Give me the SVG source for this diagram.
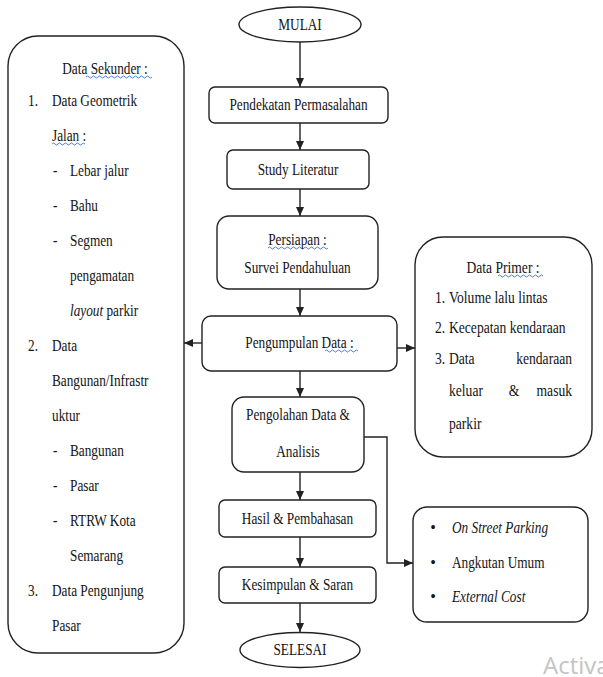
<svg xmlns="http://www.w3.org/2000/svg" width="603" height="677" viewBox="0 0 603 677">
<style>
.t{font-family:"Liberation Serif","Times New Roman",serif;font-size:16px;fill:#151515}
.i{font-style:italic}
.m{text-anchor:middle}
.e{text-anchor:end}
.box{fill:#fff;stroke:#222;stroke-width:1.4}
.conn{fill:none;stroke:#222;stroke-width:1.4}
.sq{fill:none;stroke:#3b6fd0;stroke-width:0.9}
.wm{font-family:"Open Sans","Noto Sans",sans-serif;font-size:24px;fill:#c4c4c4}
</style>
<defs>
<marker id="ah" markerUnits="userSpaceOnUse" markerWidth="10" markerHeight="8" refX="9" refY="4" orient="auto">
<path d="M0,0 L9,4 L0,8 Z" fill="#222"/>
</marker>
</defs>
<rect width="603" height="677" fill="#fff"/>

<g id="connectors">
<line class="conn" x1="300" y1="42" x2="300" y2="87" marker-end="url(#ah)"/>
<line class="conn" x1="300" y1="123" x2="300" y2="150" marker-end="url(#ah)"/>
<line class="conn" x1="300" y1="189" x2="300" y2="216" marker-end="url(#ah)"/>
<line class="conn" x1="300" y1="289" x2="300" y2="316" marker-end="url(#ah)"/>
<line class="conn" x1="202" y1="343" x2="184" y2="343" marker-end="url(#ah)"/>
<line class="conn" x1="397" y1="348" x2="415" y2="348" marker-end="url(#ah)"/>
<line class="conn" x1="300" y1="371" x2="300" y2="397" marker-end="url(#ah)"/>
<line class="conn" x1="300" y1="472" x2="300" y2="500" marker-end="url(#ah)"/>
<line class="conn" x1="300" y1="537" x2="300" y2="567" marker-end="url(#ah)"/>
<line class="conn" x1="300" y1="603" x2="300" y2="632" marker-end="url(#ah)"/>
<path class="conn" d="M364,437 H387 V563 H413" marker-end="url(#ah)"/>
</g>

<g id="mulai">
<ellipse class="box" cx="300" cy="24.5" rx="61" ry="17.5"/>
<text class="t m" transform="translate(300 30) scale(0.83 1)">MULAI</text>
</g>

<g id="pendekatan">
<rect class="box" x="209" y="87" width="179" height="36" rx="6"/>
<text class="t m" transform="translate(298.5 110) scale(0.83 1)">Pendekatan Permasalahan</text>
</g>

<g id="study">
<rect class="box" x="227" y="150" width="142" height="39" rx="6"/>
<text class="t m" transform="translate(298 175) scale(0.83 1)">Study Literatur</text>
</g>

<g id="persiapan">
<rect class="box" x="217" y="216" width="161" height="73" rx="12"/>
<text class="t m" transform="translate(297.5 245) scale(0.83 1)">Persiapan :</text>
<text class="t m" transform="translate(297.5 273) scale(0.83 1)">Survei Pendahuluan</text>
</g>

<g id="pengumpulan">
<rect class="box" x="202" y="316" width="195" height="55" rx="9"/>
<text class="t m" transform="translate(299.5 348) scale(0.83 1)">Pengumpulan Data :</text>
</g>

<g id="pengolahan">
<rect class="box" x="232" y="397" width="132" height="75" rx="12"/>
<text class="t m" transform="translate(298 420) scale(0.83 1)">Pengolahan Data &amp;</text>
<text class="t m" transform="translate(298 457) scale(0.83 1)">Analisis</text>
</g>

<g id="hasil">
<rect class="box" x="219" y="500" width="157" height="37" rx="6"/>
<text class="t m" transform="translate(297.5 524) scale(0.83 1)">Hasil &amp; Pembahasan</text>
</g>

<g id="kesimpulan">
<rect class="box" x="219" y="567" width="157" height="36" rx="6"/>
<text class="t m" transform="translate(297.5 590) scale(0.83 1)">Kesimpulan &amp; Saran</text>
</g>

<g id="selesai">
<ellipse class="box" cx="300" cy="650" rx="60" ry="17.5"/>
<text class="t m" transform="translate(300 655) scale(0.83 1)">SELESAI</text>
</g>

<g id="data-sekunder">
<rect class="box" x="8" y="36" width="176" height="617" rx="30"/>
<text class="t m" transform="translate(105 74) scale(0.83 1)">Data Sekunder :</text>
<text class="t" transform="translate(28 106) scale(0.83 1)">1.</text>
<text class="t" transform="translate(52 106) scale(0.83 1)">Data Geometrik</text>
<text class="t" transform="translate(52 141) scale(0.83 1)">Jalan :</text>
<text class="t" transform="translate(53 176) scale(0.83 1)">-</text>
<text class="t" transform="translate(70 176) scale(0.83 1)">Lebar jalur</text>
<text class="t" transform="translate(53 211) scale(0.83 1)">-</text>
<text class="t" transform="translate(70 211) scale(0.83 1)">Bahu</text>
<text class="t" transform="translate(53 246) scale(0.83 1)">-</text>
<text class="t" transform="translate(70 246) scale(0.83 1)">Segmen</text>
<text class="t" transform="translate(70 281) scale(0.83 1)">pengamatan</text>
<text class="t" transform="translate(70 316) scale(0.83 1)"><tspan class="i">layout</tspan> parkir</text>
<text class="t" transform="translate(28 351) scale(0.83 1)">2.</text>
<text class="t" transform="translate(52 351) scale(0.83 1)">Data</text>
<text class="t" transform="translate(52 386) scale(0.83 1)">Bangunan/Infrastr</text>
<text class="t" transform="translate(52 421) scale(0.83 1)">uktur</text>
<text class="t" transform="translate(53 456) scale(0.83 1)">-</text>
<text class="t" transform="translate(70 456) scale(0.83 1)">Bangunan</text>
<text class="t" transform="translate(53 491) scale(0.83 1)">-</text>
<text class="t" transform="translate(70 491) scale(0.83 1)">Pasar</text>
<text class="t" transform="translate(53 526) scale(0.83 1)">-</text>
<text class="t" transform="translate(70 526) scale(0.83 1)">RTRW Kota</text>
<text class="t" transform="translate(70 561) scale(0.83 1)">Semarang</text>
<text class="t" transform="translate(28 596) scale(0.83 1)">3.</text>
<text class="t" transform="translate(52 596) scale(0.83 1)">Data Pengunjung</text>
<text class="t" transform="translate(52 631) scale(0.83 1)">Pasar</text>
</g>

<g id="data-primer">
<rect class="box" x="415" y="237" width="177" height="220" rx="28"/>
<text class="t m" transform="translate(503 273) scale(0.85 1)">Data Primer :</text>
<text class="t" transform="translate(435 303) scale(0.85 1)">1.</text>
<text class="t" transform="translate(449 303) scale(0.85 1)">Volume lalu lintas</text>
<text class="t" transform="translate(435 333) scale(0.85 1)">2.</text>
<text class="t" transform="translate(449 333) scale(0.85 1)">Kecepatan kendaraan</text>
<text class="t" transform="translate(435 364) scale(0.85 1)">3.</text>
<text class="t" transform="translate(449 364) scale(0.85 1)">Data</text>
<text class="t e" transform="translate(572 364) scale(0.85 1)">kendaraan</text>
<text class="t" transform="translate(449 396) scale(0.85 1)">keluar</text>
<text class="t m" transform="translate(514 396) scale(0.85 1)">&amp;</text>
<text class="t e" transform="translate(572 396) scale(0.85 1)">masuk</text>
<text class="t" transform="translate(449 429) scale(0.85 1)">parkir</text>
</g>

<g id="output">
<rect class="box" x="413" y="507" width="175" height="115" rx="14"/>
<text class="t m" x="433" y="533">•</text>
<text class="t i" transform="translate(452 533) scale(0.83 1)">On Street Parking</text>
<text class="t m" x="433" y="568">•</text>
<text class="t" transform="translate(452 568) scale(0.83 1)">Angkutan Umum</text>
<text class="t m" x="433" y="602">•</text>
<text class="t i" transform="translate(452 602) scale(0.83 1)">External Cost</text>
</g>

<g id="spellcheck">
<path class="sq" d="M86,77 q1.5,-2 3,0 t3,0 t3,0 t3,0 t3,0 t3,0 t3,0 t3,0 t3,0 t3,0 t3,0 t3,0 t3,0 t3,0 t3,0 t3,0 t3,0 t3,0 t3,0 t3,0 t3,0 t3,0"/>
<path class="sq" d="M52,144 q1.5,-2 3,0 t3,0 t3,0 t3,0 t3,0 t3,0 t3,0 t3,0 t3,0 t3,0 t3,0"/>
<path class="sq" d="M268,248 q1.5,-2 3,0 t3,0 t3,0 t3,0 t3,0 t3,0 t3,0 t3,0 t3,0 t3,0 t3,0 t3,0 t3,0 t3,0 t3,0 t3,0 t3,0 t3,0 t3,0 t3,0"/>
<path class="sq" d="M325,351 q1.5,-2 3,0 t3,0 t3,0 t3,0 t3,0 t3,0 t3,0 t3,0 t3,0 t3,0 t3,0"/>
<path class="sq" d="M498,276 q1.5,-2 3,0 t3,0 t3,0 t3,0 t3,0 t3,0 t3,0 t3,0 t3,0 t3,0 t3,0 t3,0 t3,0 t3,0 t3,0"/>
</g>

<text class="wm" x="543" y="674">Activa</text>
</svg>
